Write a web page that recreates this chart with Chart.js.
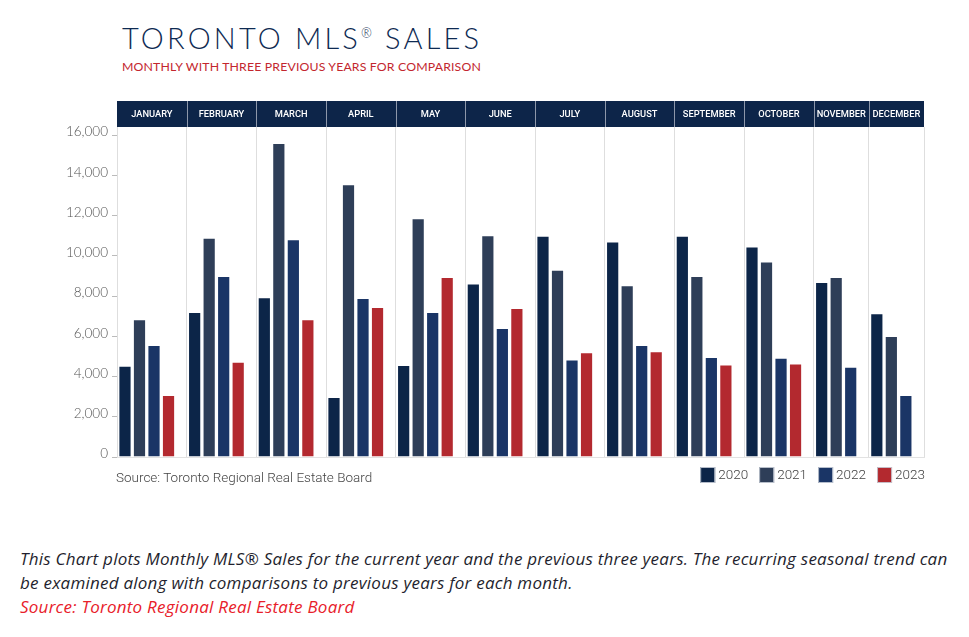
<!DOCTYPE html>
<html><head><meta charset="utf-8">
<script src="https://cdn.jsdelivr.net/npm/chart.js@4.4.1/dist/chart.umd.min.js"></script>
<style>
html,body{margin:0;padding:0;background:#fff;}
body{width:969px;height:637px;position:relative;overflow:hidden;font-family:Lato,sans-serif;}
#title{position:absolute;left:122px;top:21px;font-size:29px;color:#0e2a52;letter-spacing:3.2px;font-weight:300;line-height:34px;white-space:nowrap;}
#title sup{font-size:13px;vertical-align:top;position:relative;top:-5px;letter-spacing:2px;}
#sub{position:absolute;left:122px;top:59px;font-size:12.3px;color:#c3262e;letter-spacing:0.15px;white-space:nowrap;line-height:15px;font-weight:400;}
#wrap{position:absolute;left:0;top:0;width:969px;height:500px;}
#src{position:absolute;left:116px;top:469px;font-size:13.5px;color:#444;font-family:Roboto,sans-serif;font-weight:300;white-space:nowrap;}
#cap{position:absolute;left:20px;top:547px;font-style:italic;font-size:17px;letter-spacing:0.24px;line-height:24px;color:#1f1f2e;font-family:"Open Sans",sans-serif;white-space:nowrap;}
#cap .s{color:#e8202a;}
</style>
</head><body>
<div id="title">TORONTO MLS<sup>®</sup> SALES</div>
<div id="sub">MONTHLY WITH THREE PREVIOUS YEARS FOR COMPARISON</div>
<div id="wrap"><canvas id="c" width="969" height="500"></canvas></div>
<div id="src">Source: Toronto Regional Real Estate Board</div>
<div id="cap">This Chart plots Monthly MLS® Sales for the current year and the previous three years. The recurring seasonal trend can<br>be examined along with comparisons to previous years for each month.<br><span class="s">Source: Toronto Regional Real Estate Board</span></div>
<script>
const months = ['JANUARY','FEBRUARY','MARCH','APRIL','MAY','JUNE','JULY','AUGUST','SEPTEMBER','OCTOBER','NOVEMBER','DECEMBER'];
const years = ['2020','2021','2022','2023'];
const sales2020 = [4530,7200,7940,2980,4570,8620,10990,10710,10990,10460,8700,7150];
const sales2021 = [6850,10900,15610,13560,11870,11020,9300,8540,8990,9710,8940,6010];
const sales2022 = [5560,8990,10820,7900,7210,6410,4850,5560,4970,4930,4480,3080];
const sales2023 = [3080,4730,6850,7450,8940,7410,5210,5260,4600,4650,null,null];
const yTicks = [0,2000,4000,6000,8000,10000,12000,14000,16000];
const colors = ['#0c2548','#2e3e58','#1a3566','#b3292f'];

const series = [sales2020, sales2021, sales2022, sales2023];
// month columns sized by the number of bars they hold, bars left-aligned in each column
const PAD = 0.8;
const counts = months.map((m,i)=>series.filter(s=>s[i]!=null).length);
const bounds = [0];
counts.forEach(c=>bounds.push(bounds[bounds.length-1]+c+PAD));
const total = bounds[bounds.length-1];

const datasets = series.map((s,d)=>{
  const pts = [];
  s.forEach((v,i)=>{
    if(v==null) return;
    let rank = 0;
    for(let k=0;k<d;k++) if(series[k][i]!=null) rank++;
    pts.push({x: bounds[i] + rank + 0.55, y: v});
  });
  return {label: years[d], data: pts, backgroundColor: colors[d],
    borderColor:'rgba(255,255,255,0.4)', borderWidth:1, grouped:false,
    barPercentage:0.91, categoryPercentage:1};
});

const bandPlugin = {
  id:'band',
  afterDraw(chart){
    const {ctx, chartArea:a, scales:{x}} = chart;
    const top = a.top - 26, h = 26;
    ctx.save();
    ctx.fillStyle = '#0d2549';
    ctx.fillRect(a.left, top, a.right - a.left, h);
    ctx.strokeStyle = '#8d97aa';
    ctx.lineWidth = 1;
    for(let i=1;i<bounds.length-1;i++){
      const px = Math.round(x.getPixelForValue(bounds[i]))+0.5;
      ctx.beginPath(); ctx.moveTo(px, top); ctx.lineTo(px, top+h); ctx.stroke();
    }
    ctx.fillStyle = '#ffffff';
    ctx.font = '500 9.3px Roboto, sans-serif';
    ctx.textAlign = 'center'; ctx.textBaseline = 'middle';
    months.forEach((m,i)=>{
      const cx = (x.getPixelForValue(bounds[i]) + x.getPixelForValue(bounds[i+1]))/2;
      ctx.fillText(m, cx, top + h/2 + 0.5);
    });
    // legend
    ctx.font = '300 13.5px Roboto, sans-serif';
    ctx.textBaseline = 'middle'; ctx.textAlign = 'left';
    const boxW = 15, boxH = 16, gapT = 3, gapI = 11;
    let right = a.right + 1;
    const ly = 467;
    for(let d=chart.data.datasets.length-1; d>=0; d--){
      const ds = chart.data.datasets[d];
      const tw = ctx.measureText(ds.label).width;
      const tx = right - tw;
      const bx = tx - gapT - boxW;
      ctx.fillStyle = ds.backgroundColor;
      ctx.fillRect(bx, ly, boxW, boxH);
      ctx.strokeStyle = 'rgba(200,205,215,0.9)';
      ctx.strokeRect(bx+0.5, ly+0.5, boxW-1, boxH-1);
      ctx.fillStyle = '#444';
      ctx.fillText(ds.label, tx, ly + boxH/2 + 0.5);
      right = bx - gapI;
    }
    ctx.restore();
  }
};

new Chart(document.getElementById('c'), {
  type:'bar',
  data:{datasets},
  options:{
    responsive:false, animation:false,
    layout:{padding:{top:127, right:45, bottom:43, left:0}},
    plugins:{legend:{display:false}, tooltip:{enabled:false}},
    scales:{
      x:{type:'linear', min:0, max:total, offset:false,
        afterBuildTicks(s){ s.ticks = bounds.map(v=>({value:v})); },
        afterFit(s){ s.height = 0; },
        ticks:{display:false},
        grid:{color:'#dedede', lineWidth:1, drawTicks:false, offset:false},
        border:{display:true, color:'#e2e2e2'}
      },
      y:{min:0, max:16400,
        afterBuildTicks(s){ s.ticks = yTicks.map(v=>({value:v})); },
        afterFit(s){ s.width = 117; },
        ticks:{color:'#555', font:{family:'Lato', size:13.5, weight:'300'}, padding:4, labelOffset:-3,
          callback:v=>v.toLocaleString('en-US')},
        grid:{drawOnChartArea:false, drawTicks:true, tickLength:5, color:'#bbbbbb'},
        border:{display:false}
      }
    }
  },
  plugins:[bandPlugin]
});
</script>
</body></html>
